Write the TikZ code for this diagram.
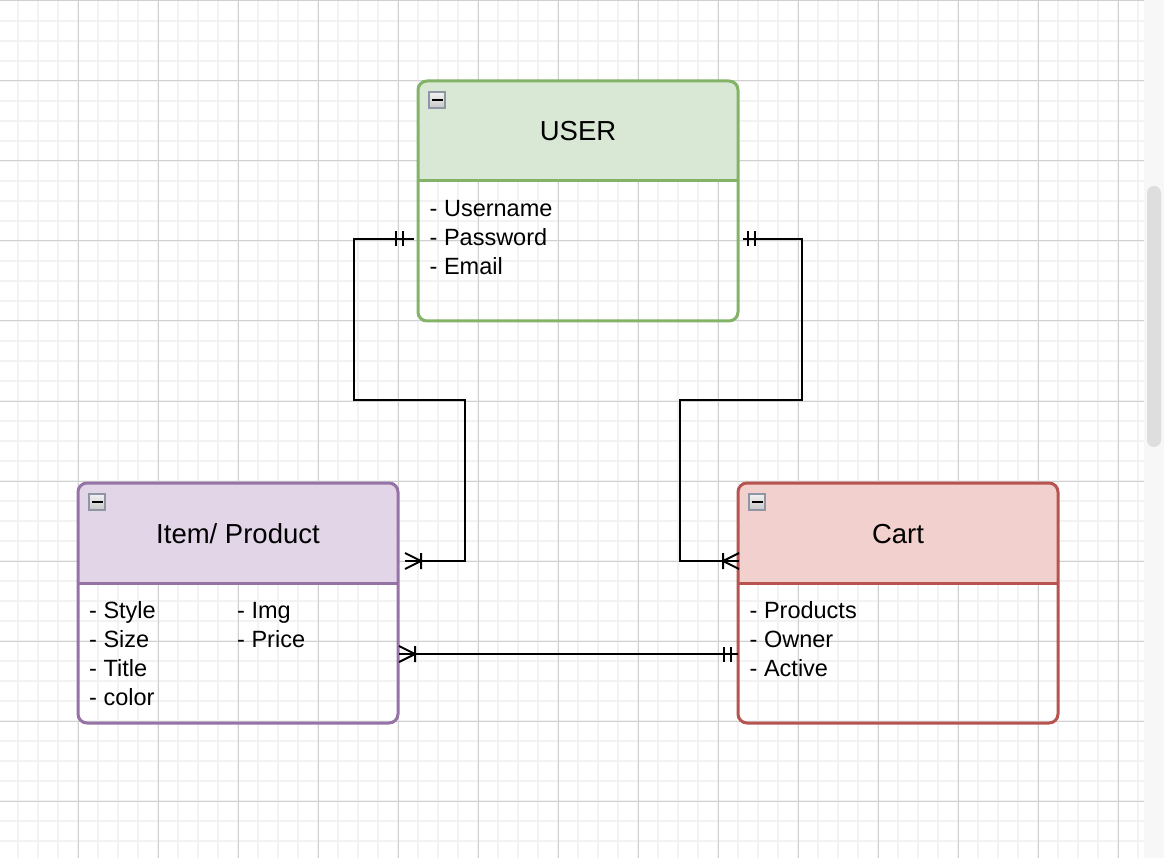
\documentclass[tikz,border=0pt]{standalone}
\usepackage{fontspec}
\setmainfont{Liberation Sans}
\usepackage{xcolor}
\usepackage{tikz}
\definecolor{userline}{HTML}{82B366}
\definecolor{userfill}{HTML}{D9E7D5}
\definecolor{itemline}{HTML}{9673A6}
\definecolor{itemfill}{HTML}{E1D5E7}
\definecolor{cartline}{HTML}{B85450}
\definecolor{cartfill}{HTML}{F2D0CD}
\definecolor{gridminor}{HTML}{F2F2F2}
\definecolor{gridmajor}{HTML}{D0D0D0}
\definecolor{iconline}{HTML}{8E95A5}

\begin{document}
\begin{tikzpicture}[x=1pt, y=-1pt,
    entity/.style 2 args={shape=rectangle, draw=#1, line width=3pt, rounded corners=9pt,
      minimum width=320pt, minimum height=240pt, inner sep=0pt, outer sep=0pt,
      path picture={
        \fill[#2, sharp corners] (path picture bounding box.north west) rectangle ([yshift=-100pt]path picture bounding box.north east);
        \draw[#1, line width=3pt, sharp corners] ([yshift=-100pt]path picture bounding box.north west) -- ([yshift=-100pt]path picture bounding box.north east);}},
    title/.style={font=\fontsize{27.5}{33}\selectfont, anchor=base, inner sep=0pt},
    attrs/.style={font=\fontsize{23.5}{29}\selectfont, align=left, anchor=north west, inner sep=0pt},
    iconbox/.style={draw=iconline, line width=2pt, top color=white!95!black, bottom color=white!78!black},
    conn/.style={line width=2pt, black},
    mandone/.pic={\draw[conn] (0,-7.5) -- (0,7.5) (7,-7.5) -- (7,7.5);},
    crowmany/.pic={\draw[conn] (0,-8) -- (16,0) -- (0,8) (16,-8) -- (16,8);}]
    \useasboundingbox (0,0) rectangle (1164,858);

    % grid
    \fill[white] (0,0) rectangle (1164,858);
    \foreach \gx in {18,38,...,1138} \draw[gridminor, line width=2pt] (\gx,0) -- (\gx,858);
    \foreach \gy in {21,41,...,841} \draw[gridminor, line width=2pt] (0,\gy) -- (1144,\gy);
    \foreach \gx in {78,158,...,1118} \draw[gridmajor, line width=1pt] (\gx,0) -- (\gx,858);
    \foreach \gy in {1,81,...,801} \draw[gridmajor, line width=1pt] (0,\gy) -- (1144,\gy);
    \fill[white!97!black] (1144,0) rectangle (1164,858);
    \fill[white!87!black, rounded corners=7pt] (1147,186) rectangle (1161,447);

    % entities
    \node[entity={userline}{userfill}] (user) at (578,201) {};
    \node[entity={itemline}{itemfill}] (item) at (238,603) {};
    \node[entity={cartline}{cartfill}] (cart) at (898,603) {};

    \foreach \ent in {user,item,cart}{
      \draw[iconbox] ([xshift=11pt,yshift=-11pt]\ent.north west) rectangle ++(16,16);
      \draw[line width=2.5pt] ([xshift=14pt,yshift=-19pt]\ent.north west) -- ++(11,0);
    }

    \node[title] (usertitle) at ([yshift=-60pt]user.north) {USER};
    \node[title] (itemtitle) at ([yshift=-60pt]item.north) {Item/ Product};
    \node[title] (carttitle) at ([yshift=-60pt]cart.north) {Cart};

    \node[attrs] (userattrs) at ([xshift=11.5pt,yshift=-115.2pt]user.north west) {\strut - Username\\- Password\\- Email};
    \node[attrs] (itemattrs) at ([xshift=11pt,yshift=-115.2pt]item.north west) {\strut - Style\\- Size\\- Title\\- color};
    \node[attrs] (itemattrsb) at ([xshift=-1pt,yshift=-115.2pt]item.north) {\strut - Img\\- Price};
    \node[attrs] (cartattrs) at ([xshift=11.5pt,yshift=-115.2pt]cart.north west) {\strut - Products\\- Owner\\- Active};

    % relations
    \draw[conn] ([xshift=-4pt,yshift=-38pt]user.west) -- ++(-60,0) |- ++(111,161) |- ([xshift=7pt,yshift=42pt]item.east);
    \draw[conn] ([xshift=5pt,yshift=-38pt]user.east) -- ++(59,0) |- ++(-122,161) |- ([xshift=1pt,yshift=42pt]cart.west);
    \draw[conn] ([xshift=1pt,yshift=-51pt]item.east) -- ([yshift=-51pt]cart.west);

    \pic[rotate=180] at ([xshift=-15pt,yshift=-38pt]user.west) {mandone};
    \pic at ([xshift=10pt,yshift=-38pt]user.east) {mandone};
    \pic[rotate=180] at ([xshift=-7pt,yshift=-51pt]cart.west) {mandone};
    \pic at ([xshift=7pt,yshift=42pt]item.east) {crowmany};
    \pic[rotate=180] at ([xshift=1pt,yshift=42pt]cart.west) {crowmany};
    \pic at ([xshift=1pt,yshift=-51pt]item.east) {crowmany};
  \end{tikzpicture}
\end{document}
